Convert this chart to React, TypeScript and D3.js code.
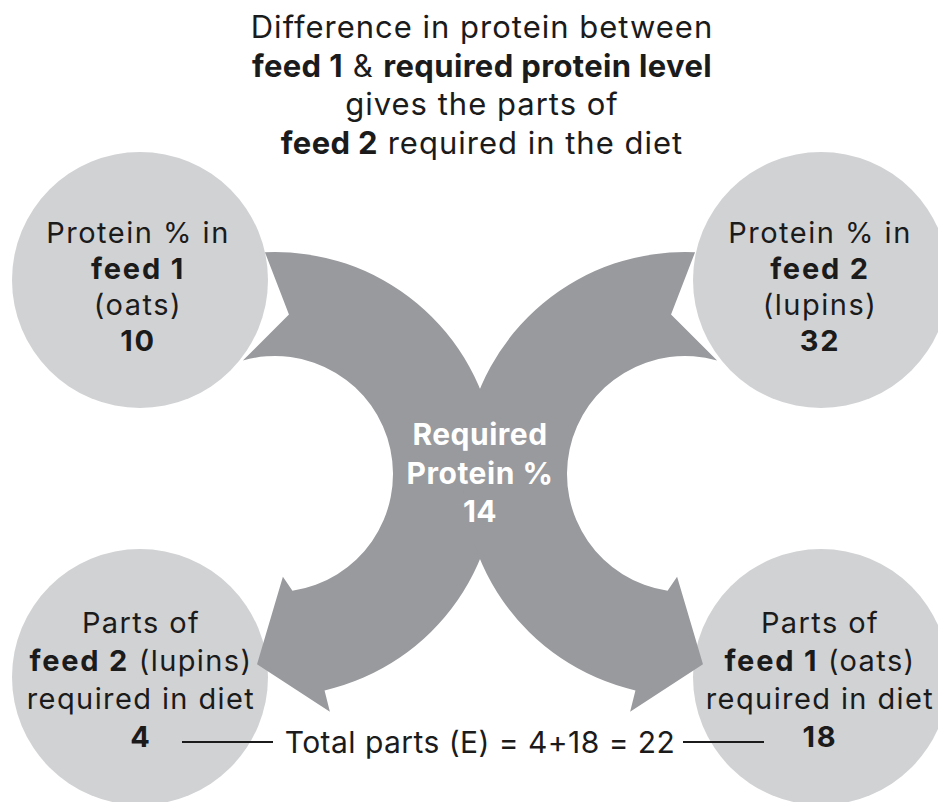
import React from "react";
import * as d3 from "d3";

// ---- content (text & values) ----
const titleLines: { t: string; b?: boolean }[][] = [
  [{ t: "Difference in protein between" }],
  [{ t: "feed 1", b: true }, { t: " & " }, { t: "required protein level", b: true }],
  [{ t: "gives the parts of" }],
  [{ t: "feed 2", b: true }, { t: " required in the diet" }],
];
const feedLabels = ["feed 1", "feed 2"];
const feedNames = ["oats", "lupins"];
const proteinPct = [10, 32];
const requiredProtein = 14;
const partsRequired = [18, 4]; // parts of feed 1, parts of feed 2
const totalParts = 22;

// ---- styling / layout ----
const W = 938;
const H = 802;
const FONT = "Inter, 'Open Sans', sans-serif";
const CIRCLE_FILL = "#d1d2d4";
const ARROW_FILL = "#999a9e";
const TEXT = "#1b1b1b";
const MID = 480; // symmetry axis

const deg = (d: number) => (d * Math.PI) / 180;

function arrowPath(cx: number, cy: number, r1: number, r2: number) {
  const pt = (r: number, a: number): [number, number] => [cx + r * Math.cos(deg(a)), cy + r * Math.sin(deg(a))];
  const p = d3.path();
  const tailOuter = pt(r2, -92.6);
  p.moveTo(tailOuter[0], tailOuter[1]);
  p.arc(cx, cy, r2, deg(-92.6), deg(77.1), false);
  const ob = pt(244, 77);
  p.lineTo(ob[0], ob[1]);
  const tip = pt(191, 95.4);
  p.lineTo(tip[0], tip[1]);
  const ib = pt(103, 85.6);
  p.lineTo(ib[0], ib[1]);
  p.arc(cx, cy, r1, deg(81.5), deg(-105.8), true);
  const notch = pt(160, -85);
  p.lineTo(notch[0], notch[1]);
  p.closePath();
  return p.toString();
}

type Seg = { t: string; b?: boolean };

function RichLines({ x, y0, dy, lines, size, fill = TEXT, lsR = 0, lsB = 0 }: { x: number; y0: number; dy: number; lines: Seg[][]; size: number; fill?: string; lsR?: number; lsB?: number }) {
  return (
    <g>
      {lines.map((segs, i) => (
        <text key={i} x={x} y={y0 + i * dy} textAnchor="middle" fontFamily={FONT} fontSize={size} fill={fill}>
          {segs.map((s, j) => (
            <tspan key={j} fontWeight={s.b ? 700 : 400} letterSpacing={s.b ? lsB : lsR}>
              {s.t}
            </tspan>
          ))}
        </text>
      ))}
    </g>
  );
}

export default function App() {
  const R = 128;
  const circles = [
    { cx: 140, cy: 280 },
    { cx: 821, cy: 280 },
    { cx: 140, cy: 677 },
    { cx: 821, cy: 677 },
  ];
  const leftArrow = arrowPath(275, 474, 118, 222);

  const topLeftLines: Seg[][] = [[{ t: "Protein % in" }], [{ t: feedLabels[0], b: true }], [{ t: `(${feedNames[0]})` }], [{ t: String(proteinPct[0]), b: true }]];
  const topRightLines: Seg[][] = [[{ t: "Protein % in" }], [{ t: feedLabels[1], b: true }], [{ t: `(${feedNames[1]})` }], [{ t: String(proteinPct[1]), b: true }]];
  const botLeftLines: Seg[][] = [[{ t: "Parts of" }], [{ t: feedLabels[1], b: true }, { t: ` (${feedNames[1]})` }], [{ t: "required in diet" }], [{ t: String(partsRequired[1]), b: true }]];
  const botRightLines: Seg[][] = [[{ t: "Parts of" }], [{ t: feedLabels[0], b: true }, { t: ` (${feedNames[0]})` }], [{ t: "required in diet" }], [{ t: String(partsRequired[0]), b: true }]];
  const midLines: Seg[][] = [[{ t: "Required", b: true }], [{ t: "Protein %", b: true }], [{ t: String(requiredProtein), b: true }]];

  return (
    <div style={{ position: "absolute", left: 0, top: 0 }}>
      <svg width={W} height={H} viewBox={`0 0 ${W} ${H}`} style={{ display: "block", background: "#fff" }}>
        {circles.map((c, i) => (
          <circle key={i} cx={c.cx} cy={c.cy} r={R} fill={CIRCLE_FILL} />
        ))}
        <path d={leftArrow} fill={ARROW_FILL} />
        <path d={leftArrow} fill={ARROW_FILL} transform={`translate(${2 * MID},0) scale(-1,1)`} />

        <RichLines x={482} y0={38} dy={38.5} lines={titleLines} size={31} lsR={1.0} lsB={0.35} />
        <RichLines x={138} y0={243} dy={36} lines={topLeftLines} size={29} lsR={1.5} lsB={1.8} />
        <RichLines x={820} y0={243} dy={36} lines={topRightLines} size={29} lsR={1.5} lsB={1.8} />
        <RichLines x={141} y0={633} dy={38} lines={botLeftLines} size={29} lsR={1.4} lsB={1.8} />
        <RichLines x={820} y0={633} dy={38} lines={botRightLines} size={29} lsR={1.4} lsB={1.8} />
        <RichLines x={480} y0={445} dy={38.5} lines={midLines} size={30} fill="#ffffff" lsB={0.5} />

        <line x1={182} x2={273} y1={742} y2={742} stroke={TEXT} strokeWidth={2} />
        <line x1={683} x2={764} y1={742} y2={742} stroke={TEXT} strokeWidth={2} />
        <text x={480} y={753} textAnchor="middle" fontFamily={FONT} fontSize={30} fill={TEXT} letterSpacing={0.45}>
          {`Total parts (E) = ${partsRequired[1]}+${partsRequired[0]} = ${totalParts}`}
        </text>
      </svg>
    </div>
  );
}
